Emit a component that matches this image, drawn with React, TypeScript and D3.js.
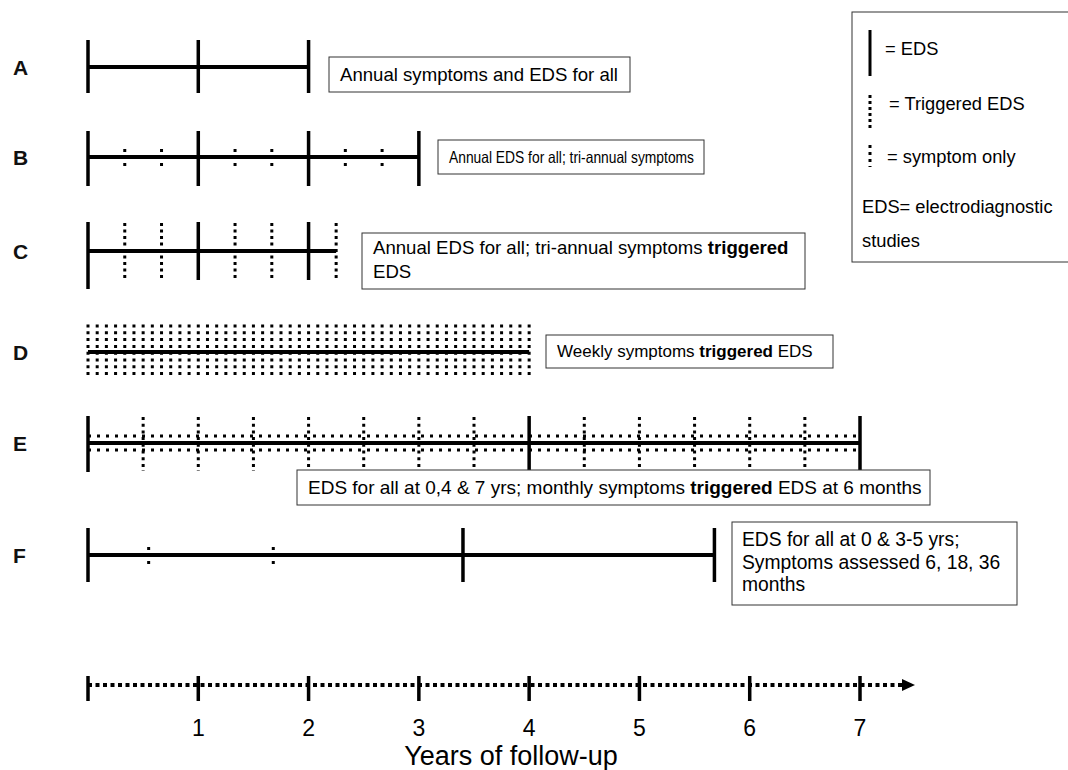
import React from "react";
import * as d3 from "d3";

const W = 1068;
const H = 770;
const FONT = "Arial, 'Liberation Sans', Helvetica, sans-serif";

// Axis
const axisYears = [0, 1, 2, 3, 4, 5, 6, 7];
const axisLabels = ["1", "2", "3", "4", "5", "6", "7"];
const axisTitle = "Years of follow-up";

// Row schedules (years)
const rowLabels = ["A", "B", "C", "D", "E", "F"];
const edsA = [0, 1, 2];
const endA = 2;
const edsB = [0, 1, 2, 3];
const symptomsB = [1 / 3, 2 / 3, 4 / 3, 5 / 3, 7 / 3, 8 / 3];
const endB = 3;
const edsC = [0, 1, 2];
const triggeredC = [1 / 3, 2 / 3, 4 / 3, 5 / 3, 2.25];
const endC = 2.25;
const endD = 4;
const monthsD = 48; // monthly grid of triggered marks over 4 years
const edsE = [0, 4, 7];
const triggeredE = [0.5, 1, 1.5, 2, 2.5, 3, 3.5, 4.5, 5, 5.5, 6, 6.5];
const endE = 7;
const edsF = [0, 3.4, 5.68];
const symptomsF = [0.55, 1.68];
const endF = 5.68;

// Box texts
const textA = "Annual symptoms and EDS for all";
const textB = "Annual EDS for all; tri-annual symptoms";
const textE1 = "EDS for all at 0,4 & 7 yrs; monthly symptoms ";
const textE2 = " EDS at 6 months";
const textF = ["EDS for all at 0 & 3-5 yrs;", "Symptoms assessed 6, 18, 36", "months"];
const legendTexts = ["= EDS", "= Triggered EDS", "= symptom only", "EDS= electrodiagnostic", "studies"];

export default function App() {
  const x = d3.scaleLinear().domain([0, 7]).range([88, 860]);
  const black = "#000";
  const boxStroke = "#333";
  const fs = 18.6;

  const solidTick = (v: number, y1: number, y2: number, key: string) => (
    <line key={key} x1={x(v)} x2={x(v)} y1={y1} y2={y2} stroke={black} strokeWidth={3.5} />
  );
  const dotV = (v: number, y1: number, y2: number, key: string, dash = "3,3.7") => (
    <line key={key} x1={x(v)} x2={x(v)} y1={y1} y2={y2} stroke={black} strokeWidth={3} strokeDasharray={dash} />
  );
  const mainLine = (end: number, y: number) => (
    <line x1={x(0)} x2={x(end)} y1={y} y2={y} stroke={black} strokeWidth={4} />
  );
  const box = (bx: number, by: number, bw: number, bh: number) => (
    <rect x={bx} y={by} width={bw} height={bh} fill="#fff" stroke={boxStroke} strokeWidth={1} />
  );

  const rowY = [67, 157, 251, 352, 443, 555];
  const dCols = d3.range(0, monthsD + 1).map((m) => (m / monthsD) * endD);

  return (
    <svg width={W} height={H} style={{ position: "absolute", left: 0, top: 0, background: "#fff" }} fontFamily={FONT}>
      <rect x={0} y={0} width={W} height={H} fill="#fff" />
      {rowLabels.map((l, i) => (
        <text key={l} x={13} y={rowY[i] + 8} fontSize={21} fontWeight="bold" fill="#111">
          {l}
        </text>
      ))}

      {/* A */}
      <g>
        {mainLine(endA, rowY[0])}
        {edsA.map((v, i) => solidTick(v, 40, 93, "a" + i))}
        {box(329, 57, 301, 35)}
        <text x={340} y={81} fontSize={fs}>{textA}</text>
      </g>

      {/* B */}
      <g>
        {mainLine(endB, rowY[1])}
        {edsB.map((v, i) => solidTick(v, 131, 186, "b" + i))}
        {symptomsB.map((v, i) => dotV(v, 149, 168, "bs" + i, "3,4"))}
        {box(438, 140, 266, 34)}
        <text x={449} y={163} fontSize={16.5} textLength={245} lengthAdjust="spacingAndGlyphs">{textB}</text>
      </g>

      {/* C */}
      <g>
        {mainLine(endC, rowY[2])}
        {edsC.map((v, i) => solidTick(v, 222, i === 0 ? 289 : 280, "c" + i))}
        {triggeredC.map((v, i) => dotV(v, 223, 280, "ct" + i, "3,3.5"))}
        {box(362, 233, 443, 56)}
        <text x={373} y={254} fontSize={fs}>
          Annual EDS for all; tri-annual symptoms <tspan fontWeight="bold">triggered</tspan>
        </text>
        <text x={373} y={278} fontSize={fs}>EDS</text>
      </g>

      {/* D */}
      <g>
        {dCols.map((v, i) => dotV(v, 324.5, 377, "d" + i, "3,3.8"))}
        {mainLine(endD, rowY[3])}
        {box(546, 335, 287, 33)}
        <text x={557} y={357} fontSize={17}>
          Weekly symptoms <tspan fontWeight="bold">triggered</tspan> EDS
        </text>
      </g>

      {/* E */}
      <g>
        <line x1={x(0)} x2={x(endE)} y1={436} y2={436} stroke={black} strokeWidth={3} strokeDasharray="3,6" />
        <line x1={x(0)} x2={x(endE)} y1={450} y2={450} stroke={black} strokeWidth={3} strokeDasharray="3,6" />
        {mainLine(endE, rowY[4])}
        {triggeredE.map((v, i) => dotV(v, 417, 471, "et" + i, "3,3.7"))}
        {edsE.map((v, i) => solidTick(v, 416, 472, "e" + i))}
        {box(297, 470, 633, 35)}
        <text x={308} y={494} fontSize={19}>
          {textE1}
          <tspan fontWeight="bold">triggered</tspan>
          {textE2}
        </text>
      </g>

      {/* F */}
      <g>
        {mainLine(endF, rowY[5])}
        {edsF.map((v, i) => solidTick(v, 528, 582, "f" + i))}
        {symptomsF.map((v, i) => dotV(v, 547, 566, "fs" + i, "3,4"))}
        {box(732, 522, 285, 83)}
        {textF.map((t, i) => (
          <text key={i} x={742} y={546 + i * 22.5} fontSize={19.3}>{t}</text>
        ))}
      </g>

      {/* Legend */}
      <g>
        <rect x={852} y={12} width={230} height={250} fill="#fff" stroke={boxStroke} strokeWidth={1} />
        <line x1={870} x2={870} y1={30} y2={76} stroke={black} strokeWidth={3} />
        <line x1={870} x2={870} y1={95} y2={131} stroke={black} strokeWidth={3} strokeDasharray="3,3" />
        <line x1={870} x2={870} y1={145} y2={167} stroke={black} strokeWidth={3} strokeDasharray="3,4" />
        <text x={885} y={55} fontSize={18.3}>{legendTexts[0]}</text>
        <text x={889} y={110} fontSize={18.3}>{legendTexts[1]}</text>
        <text x={887} y={163} fontSize={18.3}>{legendTexts[2]}</text>
        <text x={862} y={213} fontSize={18.3}>{legendTexts[3]}</text>
        <text x={862} y={247} fontSize={18.3}>{legendTexts[4]}</text>
      </g>

      {/* Axis */}
      <g>
        <line x1={x(0)} x2={903} y1={685} y2={685} stroke={black} strokeWidth={4} strokeDasharray="4,3.5" />
        <path d="M902,679 L915,685 L902,691 Z" fill={black} />
        {axisYears.map((v, i) => solidTick(v, 676, 701, "ax" + i))}
        {axisLabels.map((t, i) => (
          <text key={t} x={x(i + 1)} y={736} fontSize={23} textAnchor="middle">{t}</text>
        ))}
        <text x={511} y={765} fontSize={27} textAnchor="middle">{axisTitle}</text>
      </g>
    </svg>
  );
}
